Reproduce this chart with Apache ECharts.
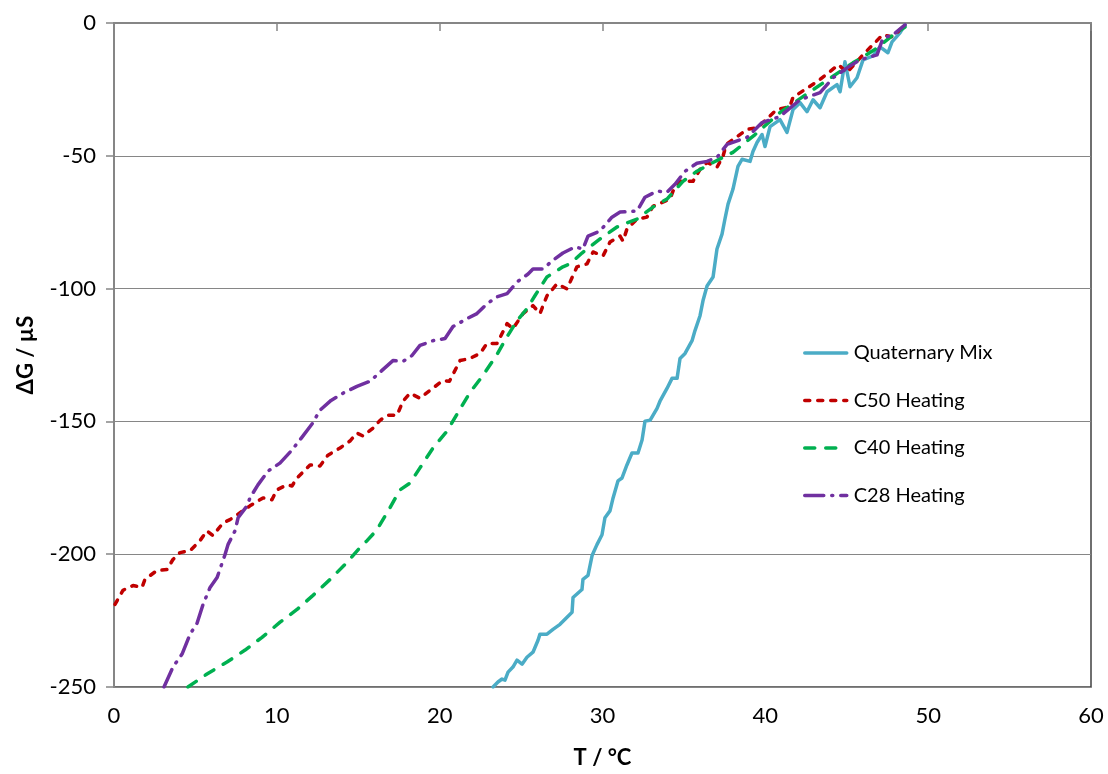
<!DOCTYPE html>
<html>
<head>
<meta charset="utf-8">
<script src="https://cdn.jsdelivr.net/npm/echarts@6/dist/echarts.min.js"></script>
<style>
  html, body { margin: 0; padding: 0; background: #fff; }
  #chart { width: 1108px; height: 774px; }
</style>
</head>
<body>
<div id="chart"></div>
<script>
// values, [T, ΔG]
const quaternaryMix = [
  [23.28, -250], [23.58, -248.1], [23.83, -247], [24.01, -247.4], [24.2, -244.4], [24.5, -242.5],
  [24.75, -239.9], [25.06, -241.4], [25.36, -238.8], [25.73, -236.9], [26.04, -232.4], [26.16, -230.1],
  [26.59, -230.1], [26.96, -228.3], [27.39, -226.4], [27.7, -224.5], [28.13, -221.9], [28.19, -216.3],
  [28.74, -213.3], [28.8, -209.5], [29.11, -208], [29.36, -200.5], [29.66, -196.4], [29.97, -192.7],
  [30.15, -186.3], [30.46, -183.7], [30.65, -178.8], [30.95, -172.4], [31.2, -171.3], [31.5, -166.4],
  [31.81, -161.9], [32.18, -161.9], [32.43, -157], [32.61, -149.9], [32.92, -149.6], [33.35, -145.1],
  [33.53, -142.4], [33.96, -137.6], [34.27, -133.8], [34.58, -133.8], [34.76, -126.3], [35.07, -124.4],
  [35.5, -119.6], [35.68, -115.8], [35.99, -110.2], [36.17, -104.6], [36.42, -99], [36.79, -95.6],
  [37.03, -85.1], [37.34, -79.5], [37.52, -73.8], [37.71, -68.2], [38.01, -62.6], [38.32, -54],
  [38.57, -51.3], [39.06, -52.1], [39.24, -48.4], [39.49, -45], [39.8, -42], [39.98, -46.5],
  [40.29, -39], [40.9, -36.4], [41.33, -41.2], [41.7, -32.6], [42.13, -30], [42.56, -33.4],
  [42.93, -28.9], [43.36, -31.9], [43.79, -25.9], [44.4, -23.2], [44.59, -25.9], [44.89, -14.6],
  [45.2, -24], [45.63, -20.6], [46.0, -13.9], [46.61, -12.4], [47.04, -9], [47.53, -11.2],
  [47.78, -7.1], [48.27, -3.7], [48.58, -0.7]
];

const c50Heating = [
  [0.06, -218.9], [0.55, -213.6], [1.17, -211.8], [1.72, -212.5], [1.9, -209.5], [2.64, -206.1],
  [3.25, -205.8], [3.62, -202], [4.05, -199.4], [4.67, -198.7], [5.28, -194.9], [5.71, -191.2],
  [6.08, -193], [6.7, -188.2], [7.12, -187], [7.74, -184.4], [8.35, -181.8], [9.15, -178.8],
  [9.7, -179.5], [10.0, -175.8], [10.62, -173.9], [10.93, -174.3], [11.24, -171.3], [12.04, -166.4],
  [12.65, -166.8], [13.14, -162.7], [13.88, -160], [14.49, -157.4], [14.92, -154.4], [15.29, -155.5],
  [15.91, -152.5], [16.34, -149.6], [16.77, -147.7], [17.38, -147.7], [17.75, -142.4], [18.18, -139.4],
  [18.79, -141.3], [19.41, -138.3], [20.2, -134.6], [20.6, -134.9], [21.25, -127.1], [21.86, -126.3],
  [22.48, -124.4], [22.9, -120.7], [23.52, -120.7], [24.14, -113.2], [24.5, -115.1], [25.12, -109.4],
  [25.73, -106.4], [26.16, -109.4], [26.59, -102.7], [27.21, -98.2], [27.82, -100.1], [28.43, -91.8],
  [29.05, -90.7], [29.42, -86.2], [30.03, -87.7], [30.46, -82.5], [31.08, -80.2], [31.26, -82.1],
  [31.5, -77.6], [32.12, -73.8], [32.73, -73.1], [33.1, -69], [34.15, -66.3], [34.33, -63.3],
  [34.76, -59.6], [35.56, -59.6], [35.99, -55.1], [36.42, -52.5], [37.03, -54.3], [37.4, -50.2],
  [37.6, -45.7], [38.9, -40], [39.5, -39.5], [40.7, -32.6], [41.5, -31.5], [41.7, -28],
  [43.2, -22], [44.5, -15.7], [45.0, -18.7], [46.1, -11.3], [47.2, -4.5], [47.8, -5.2], [48.6, -0.7]
];

const c40Heating = [
  [4.54, -250], [5.71, -245.1], [6.94, -240.6], [8.05, -236.1], [9.09, -231.3], [10.2, -225.6],
  [11.24, -220.8], [12.22, -215.5], [13.27, -209.5], [14.31, -203.1], [15.11, -197.5], [15.54, -194.9],
  [16.15, -190.8], [16.95, -182.5], [17.56, -175.8], [18.18, -173.2], [18.79, -167.5], [19.59, -160],
  [20.45, -153.7], [21.13, -146.6], [21.86, -139.1], [22.66, -132.7], [23.52, -124.8], [24.14, -118.1],
  [24.75, -112.1], [25.36, -107.6], [25.85, -102.7], [26.59, -95.6], [27.57, -91.8], [28.0, -90.7],
  [28.74, -86.6], [29.85, -81.3], [30.89, -76.8], [32.12, -73.8], [33.1, -69.3], [33.96, -66.3],
  [34.94, -59.6], [35.8, -55.8], [36.79, -52.5], [38.01, -48.7], [39.37, -42], [40.9, -33.7],
  [42.93, -25.1], [45.38, -15], [46.7, -10.1], [47.84, -4.5], [48.58, -1.5]
];

const c28Heating = [
  [3.07, -250], [3.62, -242.5], [4.18, -237.6], [4.67, -230.1], [5.1, -226], [5.47, -218.9],
  [5.9, -212.5], [6.33, -208.8], [6.82, -200.1], [7.0, -196.4], [7.43, -191.2], [7.62, -186.3],
  [8.17, -181.8], [8.35, -178.8], [8.84, -173.9], [9.46, -168.7], [10.19, -165.7], [10.93, -160.8],
  [11.55, -155.9], [12.16, -151], [12.65, -145.8], [13.33, -142.1], [14.06, -139.4], [14.92, -136.8],
  [15.72, -134.9], [16.46, -130.8], [17.13, -127.1], [17.75, -127.4], [18.3, -125.2], [18.79, -121.4],
  [19.59, -119.6], [20.33, -118.8], [20.82, -114.3], [21.68, -111.3], [22.29, -109.4], [22.91, -105.7],
  [23.52, -103.1], [24.14, -101.9], [24.75, -97.5], [25.43, -94.5], [25.73, -92.6], [26.35, -92.6],
  [26.9, -89.6], [27.57, -86.6], [28.31, -84.3], [28.8, -85.1], [29.11, -80.2], [29.85, -78.3],
  [30.58, -73.1], [31.08, -71.2], [32.12, -70.8], [32.61, -65.6], [33.35, -63.3], [33.96, -63.7],
  [34.45, -60.7], [35.07, -55.8], [35.8, -52.8], [36.42, -52.1], [37.03, -50.6], [37.65, -45.7],
  [38.87, -43.1], [39.8, -37.5], [40.9, -35.2], [42.13, -28.9], [43.36, -26.2], [44.16, -20.6],
  [45.02, -16.9], [45.81, -13.9], [46.86, -12], [47.23, -5.6], [47.84, -4.5], [48.58, -0.7]
];

const seriesNames = ['Quaternary Mix', 'C50 Heating', 'C40 Heating', 'C28 Heating'];

const font = 'Lato, "Open Sans", sans-serif';

const chart = echarts.init(document.getElementById('chart'));

function lineSeries(name, data, color, dash) {
  return {
    name: name,
    type: 'line',
    data: data,
    showSymbol: false,
    symbol: 'none',
    smooth: false,
    animation: false,
    lineStyle: {
      color: color,
      width: 3.5,
      type: dash,
      cap: 'round',
      join: 'round'
    },
    itemStyle: { color: color }
  };
}

chart.setOption({
  backgroundColor: '#ffffff',
  animation: false,
  grid: {
    left: 114,
    right: 17,
    top: 23,
    bottom: 84,
    show: true,
    borderColor: '#404040',
    borderWidth: 1.5,
    backgroundColor: 'transparent'
  },
  legend: {
    data: seriesNames,
    orient: 'vertical',
    left: 803,
    top: 341,
    padding: 0,
    itemWidth: 42,
    itemHeight: 14,
    itemGap: 23.5,
    itemStyle: { opacity: 0 },
    lineStyle: { width: 3.5 },
    textStyle: {
      fontFamily: font,
      fontSize: 20,
      color: '#000',
      lineHeight: 24,
      padding: [0, 0, 0, 2]
    }
  },
  xAxis: {
    type: 'value',
    min: 0,
    max: 60,
    interval: 10,
    name: 'T / °C',
    nameLocation: 'middle',
    nameGap: 60,
    nameTextStyle: { fontFamily: font, fontSize: 22, fontWeight: 'bold', color: '#000' },
    axisLine: { show: true, lineStyle: { color: '#868686', width: 2 } },
    axisTick: { show: true, inside: false, length: 8, lineStyle: { color: '#868686', width: 1.5 } },
    axisLabel: { fontFamily: font, fontSize: 22, color: '#000', margin: 18 },
    splitLine: { show: false }
  },
  yAxis: {
    type: 'value',
    min: -250,
    max: 0,
    interval: 50,
    name: 'ΔG / µS',
    nameLocation: 'middle',
    nameRotate: 90,
    nameGap: 77,
    nameTextStyle: { fontFamily: font, fontSize: 22, fontWeight: 'bold', color: '#000' },
    axisLine: { show: true, onZero: false, lineStyle: { color: '#868686', width: 2 } },
    axisTick: { show: true, inside: false, length: 8, lineStyle: { color: '#868686', width: 1.5 } },
    axisLabel: { fontFamily: font, fontSize: 22, color: '#000', margin: 18 },
    splitLine: { show: true, lineStyle: { color: '#868686', width: 1.2 } }
  },
  series: [
    lineSeries(seriesNames[0], quaternaryMix, '#4BACC6', 'solid'),
    lineSeries(seriesNames[1], c50Heating, '#C00000', [5, 8]),
    lineSeries(seriesNames[2], c40Heating, '#00B050', [10, 11]),
    lineSeries(seriesNames[3], c28Heating, '#7030A0', [19, 8, 1, 8])
  ]
});
</script>
</body>
</html>
